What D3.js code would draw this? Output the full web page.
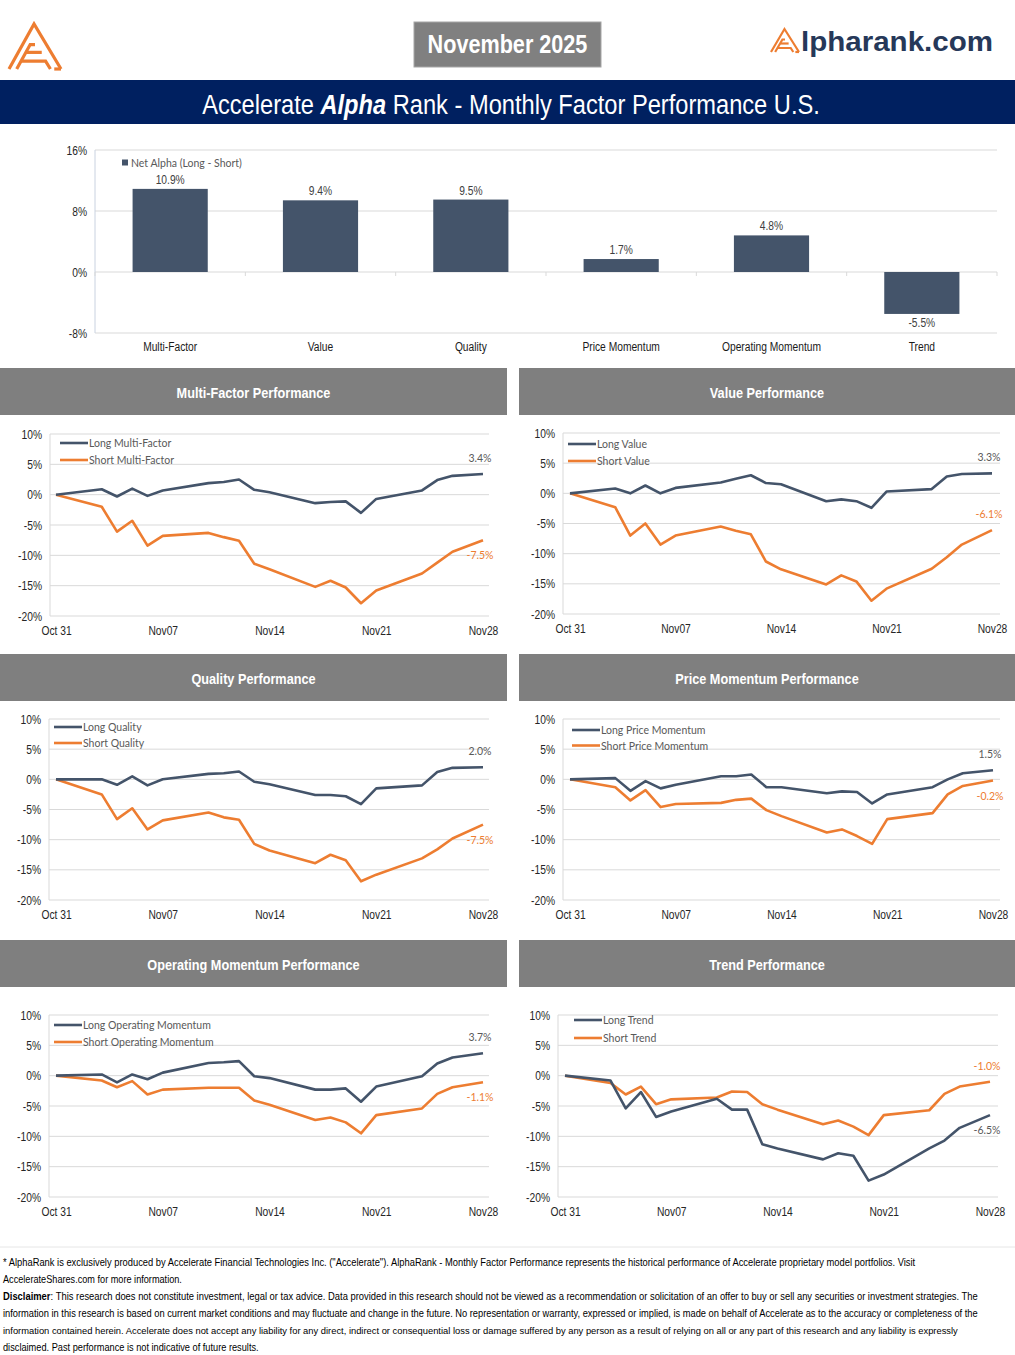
<!DOCTYPE html>
<html>
<head>
<meta charset="utf-8">
<script src="https://cdn.jsdelivr.net/npm/d3@7"></script>
<style>
  html, body { margin: 0; padding: 0; background: #ffffff; }
  svg { display: block; }
</style>
</head>
<body>
<svg id="page" width="1015" height="1355"></svg>
<script>
// ---------------- DATA ----------------
const dates = ["2025-10-31","2025-11-03","2025-11-04","2025-11-05","2025-11-06","2025-11-07",
  "2025-11-10","2025-11-11","2025-11-12","2025-11-13","2025-11-14",
  "2025-11-17","2025-11-18","2025-11-19","2025-11-20","2025-11-21",
  "2025-11-24","2025-11-25","2025-11-26","2025-11-28"];

const categories = ["Multi-Factor","Value","Quality","Price Momentum","Operating Momentum","Trend"];
const netAlpha = [10.9, 9.4, 9.5, 1.7, 4.8, -5.5];
const barTicks = [16, 8, 0, -8];

const lineTicks = [10, 5, 0, -5, -10, -15, -20];
const xTickDates = ["2025-10-31","2025-11-07","2025-11-14","2025-11-21","2025-11-28"];
const xTickLabels = ["Oct 31","Nov07","Nov14","Nov21","Nov28"];

const longMultiFactor  = [0, 0.9, -0.3, 1.0, -0.2, 0.7, 1.9, 2.1, 2.5, 0.8, 0.4, -1.4, -1.2, -1.1, -3.0, -0.7, 0.7, 2.4, 3.1, 3.4];
const shortMultiFactor = [0, -2.0, -6.1, -4.3, -8.4, -6.8, -6.3, -7.0, -7.6, -11.4, -12.3, -15.2, -14.2, -15.3, -17.9, -15.8, -13.0, -11.2, -9.4, -7.5];

const longValue  = [0, 0.8, 0.0, 1.3, 0.0, 0.9, 1.8, 2.4, 3.0, 1.7, 1.5, -1.3, -1.0, -1.3, -2.4, 0.3, 0.7, 2.8, 3.2, 3.3];
const shortValue = [0, -2.3, -7.0, -5.0, -8.5, -7.0, -5.5, -6.2, -6.8, -11.3, -12.6, -15.1, -13.6, -14.6, -17.8, -15.8, -12.5, -10.6, -8.5, -6.1];

const longQuality  = [0, 0.0, -0.9, 0.5, -1.0, 0.0, 0.9, 1.0, 1.3, -0.4, -0.8, -2.6, -2.6, -2.8, -4.1, -1.5, -1.0, 1.2, 1.9, 2.0];
const shortQuality = [0, -2.5, -6.6, -4.8, -8.3, -6.8, -5.5, -6.3, -6.7, -10.7, -11.8, -13.9, -12.5, -13.4, -16.9, -15.8, -13.1, -11.6, -9.8, -7.5];

const longPriceMomentum  = [0, 0.2, -1.9, -0.3, -1.5, -0.9, 0.5, 0.5, 0.8, -1.3, -1.3, -2.3, -2.0, -2.1, -4.0, -2.5, -1.3, 0.0, 1.0, 1.5];
const shortPriceMomentum = [0, -1.3, -3.5, -1.8, -4.6, -4.1, -3.9, -3.4, -3.2, -5.1, -6.1, -8.8, -8.3, -9.4, -10.7, -6.6, -5.6, -2.5, -1.1, -0.2];

const longOperatingMomentum  = [0, 0.2, -1.1, 0.2, -0.6, 0.5, 2.1, 2.2, 2.4, -0.1, -0.4, -2.3, -2.3, -2.1, -4.3, -1.8, -0.1, 2.0, 3.0, 3.7];
const shortOperatingMomentum = [0, -0.8, -1.9, -0.9, -3.1, -2.3, -2.0, -2.0, -2.0, -4.1, -4.8, -7.3, -6.9, -7.7, -9.5, -6.5, -5.4, -3.0, -1.9, -1.1];

const longTrend  = [0, -0.8, -5.4, -2.7, -6.8, -5.9, -3.8, -5.6, -5.6, -11.3, -12.0, -13.8, -12.8, -13.2, -17.3, -16.3, -12.0, -10.7, -8.6, -6.5];
const shortTrend = [0, -1.2, -3.1, -1.8, -4.7, -3.9, -3.6, -2.6, -2.7, -4.7, -5.6, -8.0, -7.4, -8.4, -9.8, -6.5, -5.7, -3.0, -1.8, -1.0];

const footerLines = [
  "* AlphaRank is exclusively produced by Accelerate Financial Technologies Inc. (\"Accelerate\"). AlphaRank - Monthly Factor Performance represents the historical performance of Accelerate proprietary model portfolios. Visit",
  "AccelerateShares.com for more information.",
  "This research does not constitute investment, legal or tax advice. Data provided in this research should not be viewed as a recommendation or solicitation of an offer to buy or sell any securities or investment strategies. The",
  "information in this research is based on current market conditions and may fluctuate and change in the future. No representation or warranty, expressed or implied, is made on behalf of Accelerate as to the accuracy or completeness of the",
  "information contained herein. Accelerate does not accept any liability for any direct, indirect or consequential loss or damage suffered by any person as a result of relying on all or any part of this research and any liability is expressly",
  "disclaimed. Past performance is not indicative of future results."
];

// ---------------- STYLE ----------------
const NARROW = "'Liberation Sans',Arial,sans-serif";
const NK = 0.82; // horizontal squeeze to emulate a narrow face
const CAL = "Lato,'Open Sans','Noto Sans',sans-serif";
const NAVY = "#44546a";
const ORANGE = "#ed7d31";
const GRID = "#d9d9d9";

const svg = d3.select("#page");
const parse = d3.utcParse("%Y-%m-%d");
const dateObjs = dates.map(parse);

function squeeze(sel, k) {
  sel.each(function () {
    const t = d3.select(this);
    const x = +t.attr("x") || 0;
    t.attr("transform", `translate(${x * (1 - k)},0) scale(${k},1)`);
  });
  return sel;
}
function fitWidth(sel, W) {
  sel.each(function () {
    const w = this.getBBox().width;
    squeeze(d3.select(this), W / w);
  });
  return sel;
}

// ---------------- HEADER ----------------
function drawALogo(g, x, y, w, h, sw) {
  const sx = w / 54, sy = h / 46;
  const P = (px, py) => [x + px * sx, y + py * sy];
  const line = d3.line();
  const paths = [
    [P(0,46), P(26,0), P(54,46)],
    [P(8,46), P(22,21), P(27,21)],
    [P(13,38), P(38,38), P(43,46)],
    [P(18,29), P(34,29)],
    [P(47,46), P(54,46)]
  ];
  paths.forEach(p => g.append("path").attr("d", line(p)).attr("fill", "none")
    .attr("stroke", ORANGE).attr("stroke-width", sw).attr("stroke-linejoin", "miter"));
}
drawALogo(svg.append("g"), 9, 24, 52, 45, 3.2);

svg.append("rect").attr("x", 414).attr("y", 22).attr("width", 187).attr("height", 45)
  .attr("fill", "#808080").attr("stroke", "#a6a6a6").attr("stroke-width", 1);
fitWidth(svg.append("text").attr("x", 507.5).attr("y", 53).attr("text-anchor", "middle")
  .attr("font-family", NARROW).attr("font-weight", "bold").attr("font-size", 25)
  .attr("fill", "#ffffff").text("November 2025"), 160);

drawALogo(svg.append("g"), 771, 29, 28, 23, 2.2);
svg.append("text").attr("x", 801).attr("y", 51)
  .attr("font-family", "'Liberation Sans',Arial,sans-serif").attr("font-weight", "bold")
  .attr("font-size", 28).attr("fill", "#263859").attr("textLength", 192).attr("lengthAdjust", "spacingAndGlyphs")
  .text("lpharank.com");

svg.append("rect").attr("x", 0).attr("y", 80).attr("width", 1015).attr("height", 44).attr("fill", "#002060");
const title = svg.append("text").attr("x", 511).attr("y", 114).attr("text-anchor", "middle")
  .attr("font-family", NARROW).attr("font-size", 28).attr("fill", "#ffffff");
title.append("tspan").text("Accelerate ");
title.append("tspan").attr("font-weight", "bold").attr("font-style", "italic").text("Alpha");
title.append("tspan").text(" Rank - Monthly Factor Performance U.S.");
fitWidth(title, 618);

// ---------------- BAR CHART ----------------
(function barChart() {
  const g = svg.append("g");
  const x0 = 95, x1 = 997;
  const y = d3.scaleLinear().domain([-8, 16]).range([333, 150]);
  const x = d3.scaleBand().domain(categories).range([x0, x1]).paddingInner(0.5).paddingOuter(0.25);

  g.selectAll("line.grid").data(barTicks).join("line")
    .attr("x1", x0).attr("x2", x1).attr("y1", d => y(d)).attr("y2", d => y(d))
    .attr("stroke", GRID).attr("stroke-width", 1);
  g.append("line").attr("x1", x0).attr("x2", x0).attr("y1", y(16)).attr("y2", y(-8))
    .attr("stroke", "#c9d2e0").attr("stroke-width", 1);

  const yAxis = g.append("g").attr("transform", `translate(${x0 - 5},0)`)
    .call(d3.axisLeft(y).tickValues(barTicks).tickSize(0).tickFormat(d => d + "%"));
  yAxis.select(".domain").remove();
  squeeze(yAxis.selectAll("text").attr("font-family", NARROW).attr("font-size", 12.5).attr("fill", "#262626"), NK);

  const step = (x1 - x0) / categories.length;
  const bounds = d3.range(categories.length + 1).map(i => x0 + i * step);
  g.selectAll("line.tk").data(bounds).join("line")
    .attr("x1", d => d).attr("x2", d => d).attr("y1", y(0)).attr("y2", y(0) + 4)
    .attr("stroke", GRID);

  g.selectAll("rect.bar").data(netAlpha).join("rect")
    .attr("x", (d, i) => x(categories[i]))
    .attr("width", x.bandwidth())
    .attr("y", d => y(Math.max(0, d)))
    .attr("height", d => Math.abs(y(d) - y(0)))
    .attr("fill", NAVY);

  squeeze(g.selectAll("text.val").data(netAlpha).join("text")
    .attr("x", (d, i) => x(categories[i]) + x.bandwidth() / 2)
    .attr("y", d => d >= 0 ? y(d) - 5 : y(d) + 13)
    .attr("text-anchor", "middle").attr("font-family", NARROW).attr("font-size", 12.5)
    .attr("fill", "#404040").text(d => d.toFixed(1) + "%"), NK);

  const xAxis = g.append("g").attr("transform", `translate(0,${y(-8)})`)
    .call(d3.axisBottom(x).tickSize(0));
  xAxis.select(".domain").remove();
  squeeze(xAxis.selectAll("text").attr("font-family", NARROW).attr("font-size", 12.5)
    .attr("fill", "#1a1a1a").attr("y", 9).attr("dy", "0.71em"), NK);

  g.append("rect").attr("x", 122).attr("y", 159.5).attr("width", 6).attr("height", 6).attr("fill", NAVY);
  g.append("text").attr("x", 131).attr("y", 166.5).attr("font-family", CAL).attr("font-size", 10.5)
    .attr("fill", "#595959").text("Net Alpha (Long - Short)");
})();

// ---------------- SECTION HEADERS + LINE CHARTS ----------------
const panels = [
  { title: "Multi-Factor Performance", hx: 0, hy: 368, hw: 507,
    names: ["Long Multi-Factor", "Short Multi-Factor"], long: longMultiFactor, short: shortMultiFactor,
    ax0: 50, ax1: 489, px0: 56, px1: 483, yTop: 434, yBot: 616, legX: 60, legY: 443, legGap: 17,
    longPos: "above", shortPos: "below" },
  { title: "Value Performance", hx: 519, hy: 368, hw: 496,
    names: ["Long Value", "Short Value"], long: longValue, short: shortValue,
    ax0: 563, ax1: 1000, px0: 570, px1: 992, yTop: 433, yBot: 614, legX: 568, legY: 444, legGap: 17,
    longPos: "above", shortPos: "above" },
  { title: "Quality Performance", hx: 0, hy: 654, hw: 507,
    names: ["Long Quality", "Short Quality"], long: longQuality, short: shortQuality,
    ax0: 49, ax1: 489, px0: 56, px1: 483, yTop: 719, yBot: 900, legX: 54, legY: 727, legGap: 16,
    longPos: "above", shortPos: "below" },
  { title: "Price Momentum Performance", hx: 519, hy: 654, hw: 496,
    names: ["Long Price Momentum", "Short Price Momentum"], long: longPriceMomentum, short: shortPriceMomentum,
    ax0: 563, ax1: 1000, px0: 570, px1: 993, yTop: 719, yBot: 900, legX: 572, legY: 730, legGap: 15.5,
    longPos: "above", shortPos: "below" },
  { title: "Operating Momentum Performance", hx: 0, hy: 940, hw: 507,
    names: ["Long Operating Momentum", "Short Operating Momentum"], long: longOperatingMomentum, short: shortOperatingMomentum,
    ax0: 49, ax1: 489, px0: 56, px1: 483, yTop: 1015, yBot: 1197, legX: 54, legY: 1025, legGap: 17,
    longPos: "above", shortPos: "below" },
  { title: "Trend Performance", hx: 519, hy: 940, hw: 496,
    names: ["Long Trend", "Short Trend"], long: longTrend, short: shortTrend,
    ax0: 558, ax1: 998, px0: 565, px1: 990, yTop: 1015, yBot: 1197, legX: 574, legY: 1020, legGap: 18,
    longPos: "below", shortPos: "above" }
];

panels.forEach(p => {
  const g = svg.append("g");
  g.append("rect").attr("x", p.hx).attr("y", p.hy).attr("width", p.hw).attr("height", 47).attr("fill", "#7f7f7f");
  squeeze(g.append("text").attr("x", p.hx + p.hw / 2).attr("y", p.hy + 30).attr("text-anchor", "middle")
    .attr("font-family", NARROW).attr("font-weight", "bold").attr("font-size", 15.5)
    .attr("fill", "#ffffff").text(p.title), NK);

  const x = d3.scaleUtc().domain([dateObjs[0], dateObjs[dateObjs.length - 1]]).range([p.px0, p.px1]);
  const y = d3.scaleLinear().domain([-20, 10]).range([p.yBot, p.yTop]);

  g.selectAll("line.grid").data(lineTicks).join("line")
    .attr("x1", p.ax0).attr("x2", p.ax1).attr("y1", d => y(d)).attr("y2", d => y(d))
    .attr("stroke", GRID).attr("stroke-width", 1);
  g.append("line").attr("x1", p.ax0).attr("x2", p.ax0).attr("y1", y(10)).attr("y2", y(-20))
    .attr("stroke", GRID).attr("stroke-width", 1);

  const yAxis = g.append("g").attr("transform", `translate(${p.ax0 - 5},0)`)
    .call(d3.axisLeft(y).tickValues(lineTicks).tickSize(0).tickFormat(d => d + "%"));
  yAxis.select(".domain").remove();
  squeeze(yAxis.selectAll("text").attr("font-family", NARROW).attr("font-size", 12.5).attr("fill", "#262626"), NK);

  const xAxis = g.append("g").attr("transform", `translate(0,${y(-20)})`)
    .call(d3.axisBottom(x).tickValues(xTickDates.map(parse)).tickSize(0)
      .tickFormat((d, i) => xTickLabels[i]));
  xAxis.select(".domain").remove();
  squeeze(xAxis.selectAll("text").attr("font-family", NARROW).attr("font-size", 12.5)
    .attr("fill", "#262626").attr("y", 10).attr("dy", "0.71em"), NK);

  const line = d3.line().x((d, i) => x(dateObjs[i])).y(d => y(d)).curve(d3.curveLinear);
  g.append("path").datum(p.short).attr("d", line).attr("fill", "none")
    .attr("stroke", ORANGE).attr("stroke-width", 2.6).attr("stroke-linejoin", "round");
  g.append("path").datum(p.long).attr("d", line).attr("fill", "none")
    .attr("stroke", NAVY).attr("stroke-width", 2.6).attr("stroke-linejoin", "round");

  [[NAVY, p.names[0]], [ORANGE, p.names[1]]].forEach((e, i) => {
    const ly = p.legY + i * p.legGap;
    g.append("line").attr("x1", p.legX).attr("x2", p.legX + 28).attr("y1", ly).attr("y2", ly)
      .attr("stroke", e[0]).attr("stroke-width", 2.6);
    g.append("text").attr("x", p.legX + 29).attr("y", ly + 4).attr("font-family", CAL)
      .attr("font-size", 10.5).attr("fill", "#595959").text(e[1]);
  });

  const last = dateObjs.length - 1;
  [[p.long, p.longPos, "#595959"], [p.short, p.shortPos, ORANGE]].forEach(e => {
    const v = e[0][last];
    g.append("text").attr("x", x(dateObjs[last]) - 3)
      .attr("y", y(v) + (e[1] === "above" ? -12 : 19))
      .attr("text-anchor", "middle").attr("font-family", CAL).attr("font-size", 10.5)
      .attr("fill", e[2]).text(v.toFixed(1) + "%");
  });
});

// ---------------- FOOTER ----------------
svg.append("line").attr("x1", 0).attr("x2", 1015).attr("y1", 1247).attr("y2", 1247)
  .attr("stroke", "#e6e6e6").attr("stroke-width", 1);
const footerWidths = [914, 179, 977, 977, 957, 256];
footerLines.forEach((t, i) => {
  const txt = svg.append("text").attr("x", 3).attr("y", 1266 + i * 17)
    .attr("font-family", NARROW).attr("font-size", 10).attr("fill", "#000000");
  if (i === 2) {
    txt.append("tspan").attr("font-weight", "bold").text("Disclaimer");
    txt.append("tspan").text(": ");
    txt.append("tspan").text(t);
  } else {
    txt.text(t);
  }
  fitWidth(txt, footerWidths[i]);
});
</script>
</body>
</html>
